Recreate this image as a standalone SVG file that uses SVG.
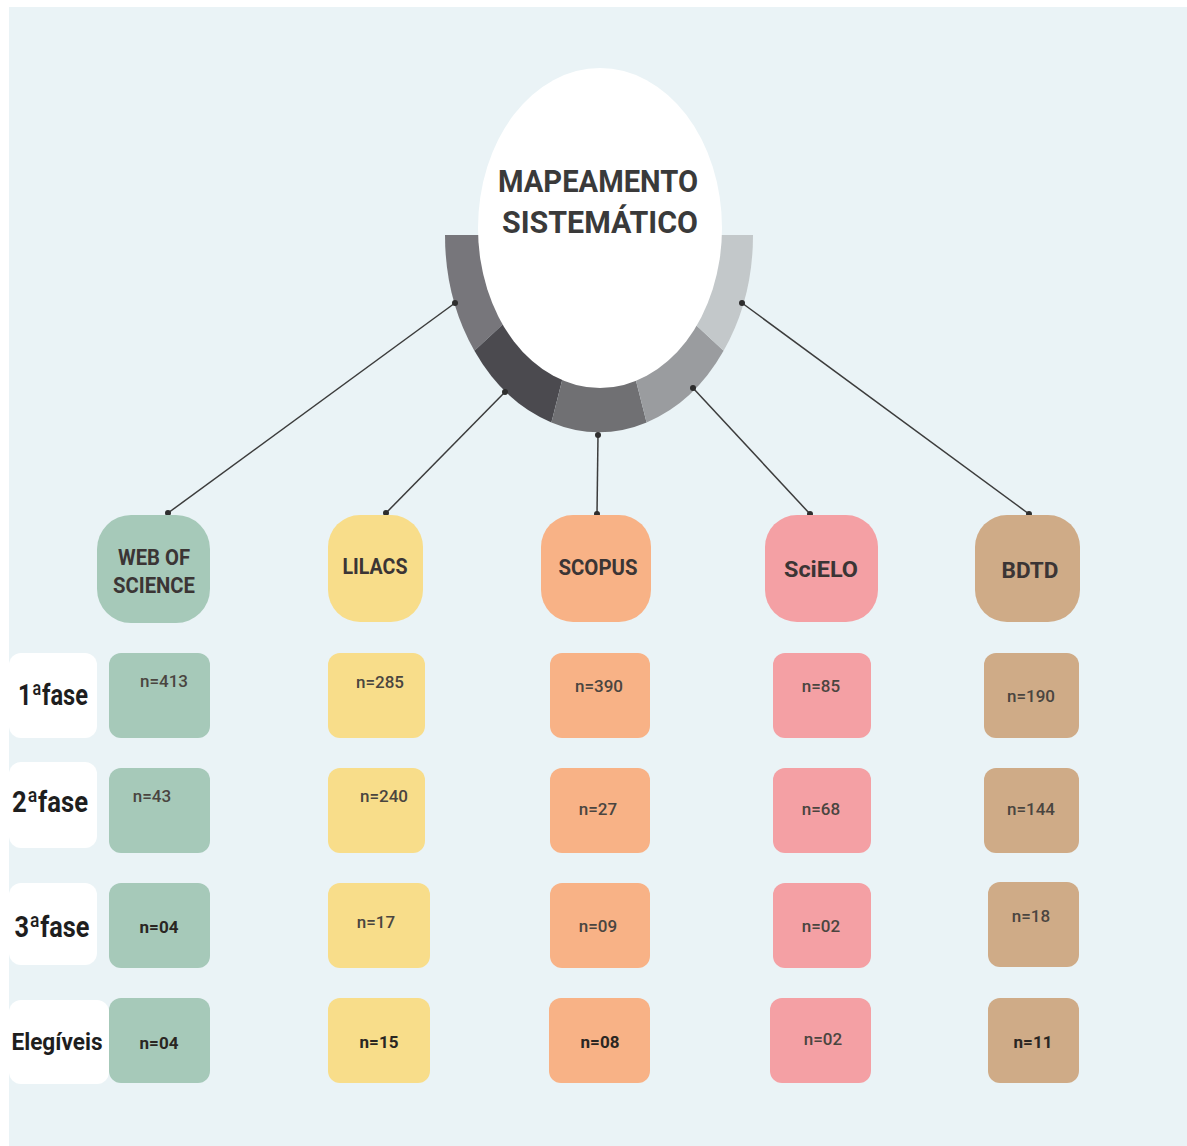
<svg xmlns="http://www.w3.org/2000/svg" width="1187" height="1146" viewBox="0 0 1187 1146">
<style>
.bg{fill:#EAF3F6}
.ttl{font-family:"Roboto","Liberation Sans",sans-serif;font-weight:700;font-size:31px;fill:#3a3a3a;text-anchor:middle}
.nl{font-family:"Roboto","Liberation Sans",sans-serif;font-weight:700;font-size:22px;fill:#3b3535;text-anchor:middle}
.ph{font-family:"Roboto","Liberation Sans",sans-serif;font-weight:700;font-size:29px;fill:#1e1e1e;text-anchor:middle}
.n{font-family:"Roboto","Liberation Sans",sans-serif;font-weight:500;font-size:17px;fill:#4a4540;text-anchor:middle}
.nb{font-family:"Roboto","Liberation Sans",sans-serif;font-weight:700;font-size:17px;fill:#2a2622;text-anchor:middle}
.lab{fill:#ffffff}
.c1{fill:#A6C9B9}.c2{fill:#F8DD8A}.c3{fill:#F8B286}.c4{fill:#F4A0A4}.c5{fill:#CFAB87}
.con{stroke:#3c3c3c;stroke-width:1.5;fill:none}
.dot{fill:#2e2e2e}
</style>
<rect width="1187" height="1146" fill="#ffffff"/>
<rect class="bg" x="9" y="7" width="1178" height="1139"/>

<g id="center">
<path d="M599,235 L474.4,350.8 A154,197 0 0 1 445,235 Z" fill="#77767B"/>
<path d="M599,235 L551.4,422.4 A154,197 0 0 1 474.4,350.8 Z" fill="#4B4A4F"/>
<path d="M599,235 L646.6,422.4 A154,197 0 0 1 551.4,422.4 Z" fill="#707073"/>
<path d="M599,235 L723.6,350.8 A154,197 0 0 1 646.6,422.4 Z" fill="#9A9C9F"/>
<path d="M599,235 L753,235 A154,197 0 0 1 723.6,350.8 Z" fill="#C3C8CA"/>
<ellipse cx="600" cy="228" rx="122" ry="160" fill="#ffffff"/>
<text class="ttl" x="598" y="192" textLength="200" lengthAdjust="spacingAndGlyphs">MAPEAMENTO</text>
<text class="ttl" x="600" y="233" textLength="196" lengthAdjust="spacingAndGlyphs">SISTEMÁTICO</text>
</g>

<g id="connectors">
<line class="con" x1="455" y1="303" x2="168" y2="513"/>
<line class="con" x1="505" y1="392" x2="386" y2="513"/>
<line class="con" x1="598" y1="435" x2="597" y2="514"/>
<line class="con" x1="693" y1="388" x2="810" y2="514"/>
<line class="con" x1="742" y1="303" x2="1029" y2="514"/>
<circle class="dot" cx="455" cy="303" r="3"/><circle class="dot" cx="168" cy="513" r="3"/>
<circle class="dot" cx="505" cy="392" r="3"/><circle class="dot" cx="386" cy="513" r="3"/>
<circle class="dot" cx="598" cy="435" r="3"/><circle class="dot" cx="597" cy="514" r="3"/>
<circle class="dot" cx="693" cy="388" r="3"/><circle class="dot" cx="810" cy="514" r="3"/>
<circle class="dot" cx="742" cy="303" r="3"/><circle class="dot" cx="1029" cy="514" r="3"/>
</g>

<g id="node-wos">
<rect class="c1" x="97" y="515" width="113" height="108" rx="34"/>
<text class="nl" x="154" y="565" textLength="72" lengthAdjust="spacingAndGlyphs">WEB OF</text>
<text class="nl" x="154" y="593" textLength="82" lengthAdjust="spacingAndGlyphs">SCIENCE</text>
</g>
<g id="node-lilacs">
<rect class="c2" x="328" y="515" width="95" height="107" rx="32"/>
<text class="nl" x="375" y="574" textLength="65" lengthAdjust="spacingAndGlyphs">LILACS</text>
</g>
<g id="node-scopus">
<rect class="c3" x="541" y="515" width="110" height="107" rx="32"/>
<text class="nl" x="598" y="575" textLength="79" lengthAdjust="spacingAndGlyphs">SCOPUS</text>
</g>
<g id="node-scielo">
<rect class="c4" x="765" y="515" width="113" height="107" rx="32"/>
<text class="nl" x="821" y="577" textLength="74" lengthAdjust="spacingAndGlyphs">SciELO</text>
</g>
<g id="node-bdtd">
<rect class="c5" x="975" y="515" width="105" height="107" rx="32"/>
<text class="nl" x="1030" y="578" textLength="57" lengthAdjust="spacingAndGlyphs">BDTD</text>
</g>

<g id="labels">
<rect class="lab" x="9" y="653" width="88" height="85" rx="12"/>
<text class="ph" x="53" y="705" textLength="70" lengthAdjust="spacingAndGlyphs">1ªfase</text>
<rect class="lab" x="9" y="762" width="88" height="86" rx="12"/>
<text class="ph" x="50" y="812" textLength="76" lengthAdjust="spacingAndGlyphs">2ªfase</text>
<rect class="lab" x="9" y="883" width="88" height="82" rx="12"/>
<text class="ph" x="52" y="937" textLength="75" lengthAdjust="spacingAndGlyphs">3ªfase</text>
<rect class="lab" x="9" y="1000" width="100" height="84" rx="12"/>
<text class="ph" x="57" y="1050" style="font-size:24px" textLength="91" lengthAdjust="spacingAndGlyphs">Elegíveis</text>
</g>

<g id="col-wos">
<rect class="c1" x="109" y="653" width="101" height="85" rx="12"/>
<text class="n" x="164" y="687">n=413</text>
<rect class="c1" x="109" y="768" width="101" height="85" rx="12"/>
<text class="n" x="152" y="802">n=43</text>
<rect class="c1" x="109" y="883" width="101" height="85" rx="12"/>
<text class="nb" x="159" y="933">n=04</text>
<rect class="c1" x="109" y="998" width="101" height="85" rx="12"/>
<text class="nb" x="159" y="1049">n=04</text>
</g>

<g id="col-lilacs">
<rect class="c2" x="328" y="653" width="97" height="85" rx="12"/>
<text class="n" x="380" y="688">n=285</text>
<rect class="c2" x="328" y="768" width="97" height="85" rx="12"/>
<text class="n" x="384" y="802">n=240</text>
<rect class="c2" x="328" y="883" width="102" height="85" rx="12"/>
<text class="n" x="376" y="928">n=17</text>
<rect class="c2" x="328" y="998" width="102" height="85" rx="12"/>
<text class="nb" x="379" y="1048">n=15</text>
</g>

<g id="col-scopus">
<rect class="c3" x="550" y="653" width="100" height="85" rx="12"/>
<text class="n" x="599" y="692">n=390</text>
<rect class="c3" x="550" y="768" width="100" height="85" rx="12"/>
<text class="n" x="598" y="815">n=27</text>
<rect class="c3" x="550" y="883" width="100" height="85" rx="12"/>
<text class="n" x="598" y="932">n=09</text>
<rect class="c3" x="549" y="998" width="101" height="85" rx="12"/>
<text class="nb" x="600" y="1048">n=08</text>
</g>

<g id="col-scielo">
<rect class="c4" x="773" y="653" width="98" height="85" rx="12"/>
<text class="n" x="821" y="692">n=85</text>
<rect class="c4" x="773" y="768" width="98" height="85" rx="12"/>
<text class="n" x="821" y="815">n=68</text>
<rect class="c4" x="773" y="883" width="98" height="85" rx="12"/>
<text class="n" x="821" y="932">n=02</text>
<rect class="c4" x="770" y="998" width="101" height="85" rx="12"/>
<text class="n" x="823" y="1045">n=02</text>
</g>

<g id="col-bdtd">
<rect class="c5" x="984" y="653" width="95" height="85" rx="12"/>
<text class="n" x="1031" y="702">n=190</text>
<rect class="c5" x="984" y="768" width="95" height="85" rx="12"/>
<text class="n" x="1031" y="815">n=144</text>
<rect class="c5" x="988" y="882" width="91" height="85" rx="12"/>
<text class="n" x="1031" y="922">n=18</text>
<rect class="c5" x="988" y="998" width="91" height="85" rx="12"/>
<text class="nb" x="1033" y="1048">n=11</text>
</g>
</svg>
